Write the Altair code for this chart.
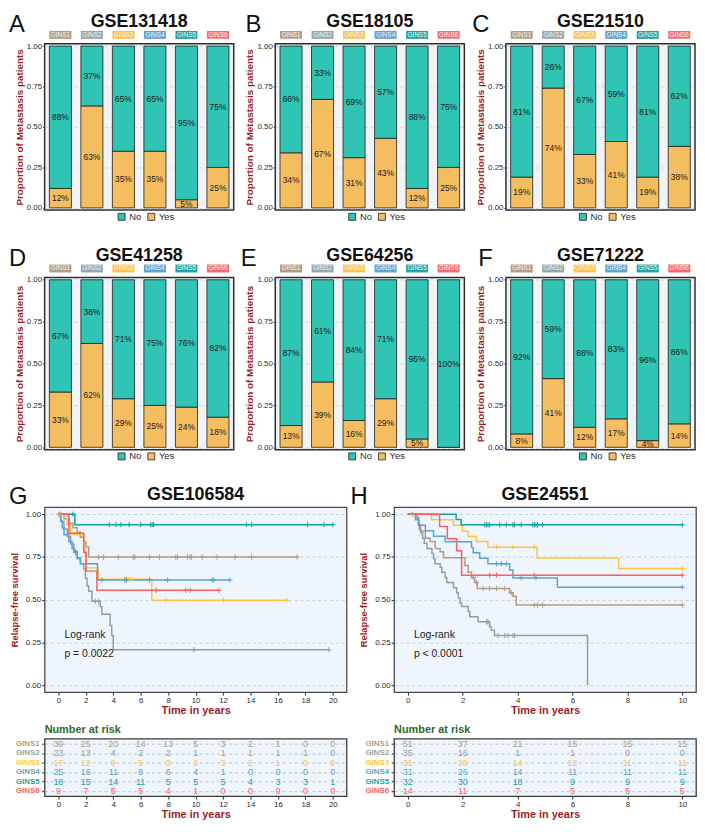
import altair as alt
import pandas as pd

FONT = "Liberation Sans"
TITLE_RED = "#9B1C1F"
GREEN = "#2B6B1F"
INK = "#2B2B2B"

GROUPS = ["GINS1", "GINS2", "GINS3", "GINS4", "GINS5", "GINS6"]
STRIP_COLORS = ["#AE977D", "#8FA3A9", "#FCC04A", "#5A9FCB", "#17A09E", "#F7616A"]
KM_COLORS = ["#B39C82", "#8FA1A6", "#FFC33F", "#5AA3D1", "#14A3A3", "#FA5F5F"]
STATUS = ["No", "Yes"]
STATUS_COLORS = ["#2FC4B4", "#F4BE60"]

# ---- bar panels (percent labels) ----
BAR_SETS = ["GSE131418", "GSE18105", "GSE21510", "GSE41258", "GSE64256", "GSE71222"]
BAR_LETTERS = ["A", "B", "C", "D", "E", "F"]
YES_PCT = {
    "GSE131418": [12, 63, 35, 35, 5, 25],
    "GSE18105": [34, 67, 31, 43, 12, 25],
    "GSE21510": [19, 74, 33, 41, 19, 38],
    "GSE41258": [33, 62, 29, 25, 24, 18],
    "GSE64256": [13, 39, 16, 29, 5, 0],
    "GSE71222": [8, 41, 12, 17, 4, 14],
}
NO_PCT = {
    "GSE131418": [88, 37, 65, 65, 95, 75],
    "GSE18105": [66, 33, 69, 57, 88, 75],
    "GSE21510": [81, 26, 67, 59, 81, 62],
    "GSE41258": [67, 38, 71, 75, 76, 82],
    "GSE64256": [87, 61, 84, 71, 95, 100],
    "GSE71222": [92, 59, 88, 83, 96, 86],
}

# ---- Kaplan-Meier curves ----
G1_TIME = {
    "GINS1": [0, 0.41, 0.77, 1.06, 1.37, 1.61, 1.85, 2.02, 2.21, 17.4],
    "GINS2": [0, 0.17, 0.41, 0.65, 0.89, 1.13, 1.37, 1.61, 1.85, 1.97, 2.09, 2.21, 2.45, 3.05, 3.17, 3.77, 3.89, 4.0, 19.7],
    "GINS3": [0, 0.65, 0.89, 1.85, 1.95, 2.02, 2.9, 6.81, 16.65],
    "GINS4": [0, 0.17, 0.29, 0.41, 0.77, 1.0, 1.13, 1.37, 1.61, 2.85, 12.5],
    "GINS5": [0, 1.2, 20.0],
    "GINS6": [0, 0.77, 1.85, 2.02, 2.81, 11.7],
}
G1_SURV = {
    "GINS1": [1, 0.974, 0.948, 0.921, 0.894, 0.866, 0.838, 0.808, 0.749, 0.749],
    "GINS2": [1, 0.957, 0.913, 0.87, 0.826, 0.783, 0.739, 0.71, 0.68, 0.625, 0.58, 0.549, 0.49, 0.458, 0.415, 0.349, 0.29, 0.206, 0.206],
    "GINS3": [1, 0.941, 0.882, 0.82, 0.755, 0.686, 0.62, 0.497, 0.497],
    "GINS4": [1, 0.96, 0.92, 0.88, 0.84, 0.80, 0.777, 0.745, 0.71, 0.615, 0.615],
    "GINS5": [1, 0.939, 0.939],
    "GINS6": [1, 0.889, 0.778, 0.667, 0.555, 0.555],
}
G1_CENS = {
    "GINS1": [0.05, 0.15, 2.93, 3.29, 4.37, 5.45, 5.57, 6.65, 7.37, 8.56, 8.68, 9.4, 9.6, 9.69, 10.48, 11.56, 12.88, 14.08, 17.4],
    "GINS2": [1.25, 2.69, 2.93, 9.88, 19.7],
    "GINS3": [4.85, 4.97, 5.09, 5.28, 7.84, 12.04, 16.65],
    "GINS4": [1.25, 3.17, 4.85, 4.97, 6.65, 7.96, 11.2, 11.32, 12.5],
    "GINS5": [1.06, 3.72, 4.2, 4.56, 5.16, 6.0, 6.72, 6.84, 6.94, 13.7, 14.08, 18.16, 19.35, 20.0],
    "GINS6": [7.12, 9.28, 9.6, 11.7],
}

G2_TIME = {
    "GINS1": [0, 0.28, 0.4, 0.46, 0.64, 0.82, 1.0, 1.18, 1.3, 2.08, 2.2, 2.32, 2.44, 2.53, 3.71, 3.83, 3.95, 10],
    "GINS2": [0, 0.34, 0.38, 0.42, 0.48, 0.54, 0.6, 0.7, 0.88, 0.94, 0.99, 1.18, 1.24, 1.36, 1.42, 1.66, 1.78, 1.84, 1.9, 1.96, 2.2, 2.26, 2.56, 2.98, 3.04, 3.16, 6.55],
    "GINS3": [0, 0.86, 1.66, 1.99, 2.2, 2.5, 2.92, 4.71, 7.68, 10],
    "GINS4": [0, 0.28, 0.4, 0.64, 0.94, 1.36, 2.32, 2.38, 2.62, 2.92, 3.71, 3.83, 5.45, 10],
    "GINS5": [0, 1.76, 1.94, 10],
    "GINS6": [0, 1.16, 1.44, 1.78, 1.96, 10],
}
G2_SURV = {
    "GINS1": [1, 0.98, 0.94, 0.9, 0.86, 0.84, 0.8, 0.78, 0.745, 0.7, 0.66, 0.63, 0.6, 0.565, 0.54, 0.52, 0.468, 0.468],
    "GINS2": [1, 0.97, 0.94, 0.91, 0.89, 0.86, 0.83, 0.8, 0.77, 0.74, 0.71, 0.69, 0.66, 0.63, 0.6, 0.57, 0.54, 0.51, 0.48, 0.46, 0.43, 0.4, 0.37, 0.34, 0.32, 0.29, 0.0],
    "GINS3": [1, 0.968, 0.935, 0.9, 0.87, 0.84, 0.807, 0.744, 0.683, 0.683],
    "GINS4": [1, 0.968, 0.935, 0.903, 0.871, 0.839, 0.806, 0.774, 0.742, 0.71, 0.674, 0.627, 0.573, 0.573],
    "GINS5": [1, 0.969, 0.938, 0.938],
    "GINS6": [1, 0.929, 0.857, 0.786, 0.643, 0.643],
}
G2_CENS = {
    "GINS1": [0.16, 2.38, 2.5, 2.74, 2.98, 3.23, 3.53, 3.77, 4.61, 4.73, 4.91, 10],
    "GINS2": [2.87, 2.92, 3.29, 3.53, 3.65, 3.83, 3.89],
    "GINS3": [3.23, 3.83, 4.61, 10],
    "GINS4": [3.23, 3.41, 3.59, 4.13, 4.67, 10],
    "GINS5": [2.8, 2.86, 2.92, 2.98, 3.35, 3.59, 3.83, 3.89, 4.13, 4.55, 4.61, 4.67, 4.73, 4.91, 10],
    "GINS6": [2.98, 3.23, 4.61, 10],
}

# ---- numbers at risk ----
RISK1_TIMES = [0, 2, 4, 6, 8, 10, 12, 14, 16, 18, 20]
RISK1 = {
    "GINS1": [39, 25, 20, 14, 13, 5, 3, 2, 1, 0, 0],
    "GINS2": [23, 13, 4, 2, 2, 1, 1, 1, 1, 1, 0],
    "GINS3": [17, 12, 9, 5, 3, 3, 3, 2, 1, 0, 0],
    "GINS4": [25, 16, 11, 8, 6, 4, 1, 0, 0, 0, 0],
    "GINS5": [18, 15, 14, 11, 5, 5, 5, 4, 3, 3, 1],
    "GINS6": [9, 7, 5, 5, 4, 1, 0, 0, 0, 0, 0],
}
RISK2_TIMES = [0, 2, 4, 6, 8, 10]
RISK2 = {
    "GINS1": [51, 37, 21, 15, 15, 15],
    "GINS2": [35, 16, 1, 1, 0, 0],
    "GINS3": [31, 28, 14, 12, 11, 11],
    "GINS4": [31, 26, 14, 11, 11, 11],
    "GINS5": [32, 30, 18, 9, 9, 9],
    "GINS6": [14, 11, 7, 5, 5, 5],
}

BW = 191
H_ROW1 = 168
H_ROW2 = 174
KM_W = 305
KM_H = 187
TAB_H = 58


def yaxis(title, **kw):
    d = dict(values=[0, 0.25, 0.5, 0.75, 1], format=".2f", title=title,
             labelFont=FONT, titleFont=FONT, labelColor=INK, tickColor=INK,
             titleColor=TITLE_RED, titleFontWeight="bold", domain=False)
    d.update(kw)
    return alt.Axis(**d)


def text_chart(txt):
    return alt.Chart(pd.DataFrame({"t": [txt]}))


def bar_panel(name, letter, letter_dx, height):
    rows = []
    for g, yv, nv in zip(GROUPS, YES_PCT[name], NO_PCT[name]):
        frac = yv / (yv + nv)
        rows.append(dict(group=g, status="Yes", y0=0.0, y1=frac, mid=frac / 2, pct=yv, label=f"{yv}%"))
        rows.append(dict(group=g, status="No", y0=frac, y1=1.0, mid=(1 + frac) / 2, pct=nv, label=f"{nv}%"))
    df = pd.DataFrame(rows)
    xs = alt.Scale(type="band", domain=GROUPS, paddingInner=0.3, paddingOuter=0.15)
    ys = alt.Scale(domain=[-0.014, 1.014], nice=False, zero=False)
    ax = yaxis("Proportion of Metastasis patients", labelFontSize=8, tickSize=2,
               labelPadding=1, titleFontSize=10, titlePadding=2,
               grid=True, gridDash=[3, 3], gridColor="#D4D7DB")
    bars = alt.Chart(df).mark_bar(stroke="#1E1E1E", strokeWidth=0.8).encode(
        x=alt.X("group:N", scale=xs, axis=None),
        y=alt.Y("y0:Q", scale=ys, axis=ax),
        y2="y1:Q",
        fill=alt.Fill("status:N", scale=alt.Scale(domain=STATUS, range=STATUS_COLORS),
                      legend=alt.Legend(orient="none", legendX=73, legendY=height + 2,
                                        direction="horizontal", title=None, symbolType="square",
                                        symbolSize=50, symbolStrokeColor="#222",
                                        symbolStrokeWidth=0.8, labelFontSize=9.5, labelFont=FONT,
                                        labelColor=INK, columnPadding=4, labelOffset=3, padding=0)),
    )
    labels = alt.Chart(df).transform_filter("datum.pct > 0").mark_text(
        fontSize=8.5, font=FONT, color="#1A1A1A").encode(
        x=alt.X("group:N", scale=xs, axis=None),
        y=alt.Y("mid:Q", scale=ys, axis=ax),
        text="label:N",
    )
    sdf = pd.DataFrame({"group": GROUPS})
    strips = alt.Chart(sdf).mark_rect(opacity=0.95).encode(
        x=alt.X("group:N", scale=xs, axis=None),
        y=alt.value(-13), y2=alt.value(-5),
        color=alt.Color("group:N", scale=alt.Scale(domain=GROUPS, range=STRIP_COLORS), legend=None),
    )
    strip_txt = alt.Chart(sdf).mark_text(fontSize=6.5, font=FONT, color="#F6F6F6", baseline="middle").encode(
        x=alt.X("group:N", scale=xs, axis=None), y=alt.value(-9), text="group:N")
    title = text_chart(name).mark_text(fontSize=18, fontWeight="bold", font=FONT, color="#111",
                                       baseline="alphabetic", align="center").encode(
        x=alt.value(BW / 2), y=alt.value(-17), text="t:N")
    let = text_chart(letter).mark_text(fontSize=24, font=FONT, color="#111",
                                       baseline="alphabetic", align="left").encode(
        x=alt.value(letter_dx), y=alt.value(-12), text="t:N")
    return alt.layer(bars, labels, strips, strip_txt, title, let).properties(
        width=BW, height=height,
        view=alt.ViewBackground(fill="#F1F3F5", stroke="#2E2E2E", strokeWidth=1.5))


def step_value(times, survs, t):
    s = survs[0]
    for ti, si in zip(times, survs):
        if ti <= t:
            s = si
        else:
            break
    return s


def km_panel(name, letter, letter_dx, tdict, sdict, cdict, xmax, xticks, ptext):
    rows, crow = [], []
    for g in GROUPS:
        for i, (t, s) in enumerate(zip(tdict[g], sdict[g])):
            rows.append(dict(group=g, t=t, s=s, idx=i))
        for c in cdict[g]:
            crow.append(dict(group=g, t=c, s=step_value(tdict[g], sdict[g], c)))
    df = pd.DataFrame(rows)
    cdf = pd.DataFrame(crow)
    xs = alt.Scale(domain=[-0.05 * xmax, 1.05 * xmax], nice=False, zero=False)
    ys = alt.Scale(domain=[-0.042, 1.042], nice=False, zero=False)
    xax = alt.Axis(values=xticks, title="Time in years", labelFont=FONT, titleFont=FONT,
                   labelFontSize=8, labelColor=INK, tickColor=INK, tickSize=3, labelPadding=1,
                   titleColor=TITLE_RED, titleFontWeight="bold", titleFontSize=11,
                   titlePadding=1, domain=False, grid=False)
    yax = yaxis("Relapse-free survival", labelFontSize=8, tickSize=3, labelPadding=1,
                titleFontSize=9.5, titlePadding=6, grid=True, gridDash=[3, 3], gridColor="#C9CED4")
    cscale = alt.Scale(domain=GROUPS, range=KM_COLORS)
    lines = alt.Chart(df).mark_line(interpolate="step-after", strokeWidth=1.5).encode(
        x=alt.X("t:Q", scale=xs, axis=xax),
        y=alt.Y("s:Q", scale=ys, axis=yax),
        color=alt.Color("group:N", scale=cscale, legend=None),
        order=alt.Order("idx:Q"),
    )
    cens = alt.Chart(cdf).mark_point(shape="M-1,0L1,0M0,-1L0,1", filled=False, size=28,
                                     strokeWidth=1, opacity=1).encode(
        x=alt.X("t:Q", scale=xs, axis=xax),
        y=alt.Y("s:Q", scale=ys, axis=yax),
        color=alt.Color("group:N", scale=cscale, legend=None),
    )
    lr = text_chart("Log-rank").mark_text(fontSize=10.5, font=FONT, color="#222", align="left",
                                         baseline="middle").encode(
        x=alt.value(20), y=alt.value(129), text="t:N")
    pv = text_chart(ptext).mark_text(fontSize=10.5, font=FONT, color="#222", align="left",
                                     baseline="middle").encode(
        x=alt.value(20), y=alt.value(148), text="t:N")
    title = text_chart(name).mark_text(fontSize=18, fontWeight="bold", font=FONT, color="#111",
                                       baseline="alphabetic", align="center").encode(
        x=alt.value(KM_W / 2), y=alt.value(-7), text="t:N")
    let = text_chart(letter).mark_text(fontSize=24, font=FONT, color="#111",
                                       baseline="alphabetic", align="left").encode(
        x=alt.value(letter_dx), y=alt.value(-3), text="t:N")
    return alt.layer(lines, cens, lr, pv, title, let).properties(
        width=KM_W, height=KM_H,
        view=alt.ViewBackground(fill="#EEF5FC", stroke="#4A4A4A", strokeWidth=1.3))


def risk_panel(times, risk, xmax):
    rows = []
    for g in GROUPS:
        for t, n in zip(times, risk[g]):
            rows.append(dict(group=g, t=t, n=n))
    df = pd.DataFrame(rows)
    xs = alt.Scale(domain=[-0.05 * xmax, 1.05 * xmax], nice=False, zero=False)
    ys = alt.Scale(type="point", domain=GROUPS, padding=0.55)
    cscale = alt.Scale(domain=GROUPS, range=KM_COLORS)
    xax = alt.Axis(values=times, title="Time in years", labelFont=FONT, titleFont=FONT,
                   labelFontSize=8, labelColor=INK, tickColor=INK, tickSize=3, labelPadding=1,
                   titleColor=TITLE_RED, titleFontWeight="bold", titleFontSize=11,
                   titlePadding=1, domain=False, grid=False)
    yax = alt.Axis(labels=False, title=None, ticks=True, tickSize=3, tickColor=INK, domain=False,
                   grid=True, gridDash=[3, 3], gridColor="#BDC3CA")
    nums = alt.Chart(df).mark_text(fontSize=9, font=FONT, baseline="middle").encode(
        x=alt.X("t:Q", scale=xs, axis=xax),
        y=alt.Y("group:N", scale=ys, axis=yax),
        color=alt.Color("group:N", scale=cscale, legend=None),
        text="n:Q",
    )
    labs = alt.Chart(pd.DataFrame({"group": GROUPS})).mark_text(
        fontSize=8, font=FONT, fontWeight="bold", align="right", baseline="middle").encode(
        x=alt.value(-5),
        y=alt.Y("group:N", scale=ys, axis=yax),
        color=alt.Color("group:N", scale=cscale, legend=None),
        text="group:N",
    )
    head = text_chart("Number at risk").mark_text(fontSize=11, fontWeight="bold", font=FONT,
                                                 color=GREEN, align="left",
                                                 baseline="alphabetic").encode(
        x=alt.value(0), y=alt.value(-6), text="t:N")
    return alt.layer(nums, labs, head).properties(
        width=KM_W, height=TAB_H,
        view=alt.ViewBackground(fill="#EEF5FC", stroke="#3A3A3A", strokeWidth=1.3))


LETTER_DX = [-36, -30, -34, -36, -35, -28]
panels = []
for i, (nm, lt) in enumerate(zip(BAR_SETS, BAR_LETTERS)):
    panels.append(bar_panel(nm, lt, LETTER_DX[i], H_ROW1 if i < 3 else H_ROW2))

res = dict(color="independent", fill="independent")
row1 = alt.hconcat(*panels[:3], spacing=42, bounds="flush").resolve_scale(**res)
row2 = alt.hconcat(*panels[3:], spacing=42, bounds="flush").resolve_scale(**res)

km1 = km_panel("GSE106584", "G", -36, G1_TIME, G1_SURV, G1_CENS, 20, list(range(0, 21, 2)), "p = 0.0022")
km2 = km_panel("GSE24551", "H", -44, G2_TIME, G2_SURV, G2_CENS, 10, list(range(0, 11, 2)), "p < 0.0001")
row3 = alt.hconcat(km1, km2, spacing=48, bounds="flush").resolve_scale(**res)

t1 = risk_panel(RISK1_TIMES, RISK1, 20)
t2 = risk_panel(RISK2_TIMES, RISK2, 10)
row4 = alt.hconcat(t1, t2, spacing=48, bounds="flush").resolve_scale(**res)

top = alt.vconcat(row1, row2, spacing=23).resolve_scale(**res)
bottom = alt.vconcat(row3, row4, spacing=6).resolve_scale(**res)
chart = alt.vconcat(top, bottom, spacing=22, padding=0).resolve_scale(**res)
chart = chart.configure(font=FONT).configure_text(font=FONT)

chart.save("out.html", embed_options={"renderer": "svg", "actions": False})
